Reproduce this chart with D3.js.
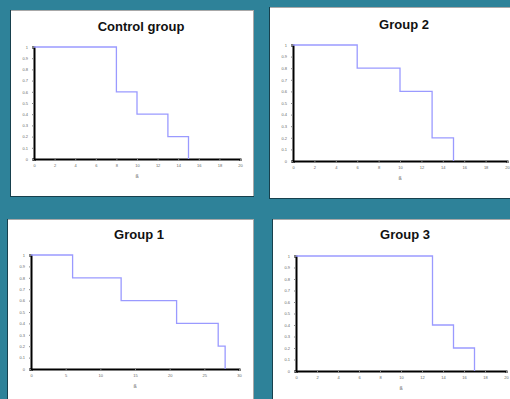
<!DOCTYPE html>
<html>
<head>
<meta charset="utf-8">
<script src="https://cdn.jsdelivr.net/npm/d3@7"></script>
<style>
  html, body { margin: 0; padding: 0; background: #2e8299; }
  svg { display: block; }
  .tick text { font-family: "Liberation Sans", Arial, sans-serif; font-size: 4px; fill: #666; }
  .tick line { stroke: #888; }
</style>
</head>
<body>
<div id="chart"></div>
<script>
// values
const titles = ['Control group', 'Group 2', 'Group 1', 'Group 3'];
const controlTimes = [0, 8, 10, 13, 15];
const controlSurv  = [1, 0.6, 0.4, 0.2, 0];
const group2Times  = [0, 6, 10, 13, 15];
const group2Surv   = [1, 0.8, 0.6, 0.2, 0];
const group1Times  = [0, 6, 13, 21, 27, 28];
const group1Surv   = [1, 0.8, 0.6, 0.4, 0.2, 0];
const group3Times  = [0, 13, 15, 17];
const group3Surv   = [1, 0.4, 0.2, 0];
const xMax = [20, 20, 30, 20];
const xStep = [2, 2, 5, 2];
const yTicks = [0, 0.1, 0.2, 0.3, 0.4, 0.5, 0.6, 0.7, 0.8, 0.9, 1];
const xLabel = 'ß';

const W = 510, H = 399;
const svg = d3.select('#chart').append('svg').attr('width', W).attr('height', H);

// panel boxes and plot areas (pixels)
const layout = [
  {box: [10, 10, 254, 197], plot: [34, 47, 240, 159], ty: 31},
  {box: [269, 7, 514, 199], plot: [293, 45, 507, 161], ty: 29},
  {box: [7, 219, 254, 404], plot: [31, 255, 239, 369], ty: 239},
  {box: [272, 219, 514, 404], plot: [296, 256, 506, 371], ty: 239}
];
const series = [
  [controlTimes, controlSurv],
  [group2Times, group2Surv],
  [group1Times, group1Surv],
  [group3Times, group3Surv]
];

layout.forEach((p, i) => {
  const [bx0, by0, bx1, by1] = p.box;
  const [px0, py0, px1, py1] = p.plot;
  const g = svg.append('g');

  g.append('rect')
    .attr('x', bx0).attr('y', by0)
    .attr('width', bx1 - bx0).attr('height', by1 - by0)
    .attr('fill', '#fff');
  // bevel-ish edges
  g.append('line').attr('x1', bx0).attr('x2', bx1).attr('y1', by0 + 0.5).attr('y2', by0 + 0.5)
    .attr('stroke', '#a8a8a8');
  g.append('line').attr('x1', bx1 - 0.5).attr('x2', bx1 - 0.5).attr('y1', by0).attr('y2', by1)
    .attr('stroke', '#a8a8a8');
  g.append('line').attr('x1', bx0 + 0.5).attr('x2', bx0 + 0.5).attr('y1', by0).attr('y2', by1)
    .attr('stroke', '#17404d');
  g.append('line').attr('x1', bx0).attr('x2', bx1).attr('y1', by1 - 0.5).attr('y2', by1 - 0.5)
    .attr('stroke', '#17404d');

  const x = d3.scaleLinear().domain([0, xMax[i]]).range([px0, px1]);
  const y = d3.scaleLinear().domain([0, 1]).range([py1, py0]);

  g.append('text')
    .attr('x', (px0 + px1) / 2 + 4).attr('y', p.ty)
    .attr('text-anchor', 'middle')
    .attr('font-family', '"Liberation Sans", Arial, sans-serif')
    .attr('font-weight', 'bold')
    .attr('font-size', 13)
    .attr('fill', '#111')
    .text(titles[i]);

  const xa = g.append('g')
    .attr('transform', 'translate(0,' + py1 + ')')
    .call(d3.axisBottom(x).tickValues(d3.range(0, xMax[i] + 0.001, xStep[i]))
      .tickSize(2).tickPadding(3).tickFormat(d3.format('d')));
  xa.select('.domain').attr('stroke', '#000').attr('stroke-width', 2);

  const ya = g.append('g')
    .attr('transform', 'translate(' + px0 + ',0)')
    .call(d3.axisLeft(y).tickValues(yTicks).tickSize(2).tickPadding(4)
      .tickFormat(d => d === 0 || d === 1 ? d : d3.format('.1f')(d)));
  ya.select('.domain').attr('stroke', '#000').attr('stroke-width', 2);

  const [ts, sv] = series[i];
  const pts = ts.map((t, k) => [t, sv[k]]);
  const line = d3.line().x(d => x(d[0])).y(d => y(d[1])).curve(d3.curveStepAfter);
  g.append('path')
    .datum(pts)
    .attr('d', line)
    .attr('fill', 'none')
    .attr('stroke', '#9a9aff')
    .attr('stroke-width', 1.3);

  g.append('text')
    .attr('x', (px0 + px1) / 2).attr('y', py1 + 19)
    .attr('text-anchor', 'middle')
    .attr('font-family', '"DejaVu Sans", sans-serif')
    .attr('font-size', 5)
    .attr('fill', '#555')
    .text(xLabel);
});
</script>
</body>
</html>
